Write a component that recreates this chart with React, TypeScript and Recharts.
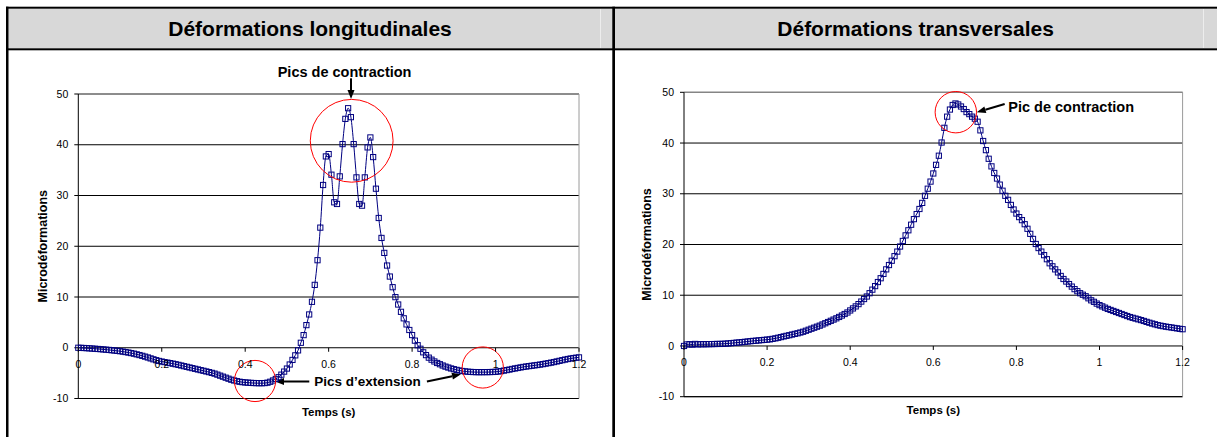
import React from 'react';
import {
  LineChart,
  Line,
  XAxis,
  YAxis,
  CartesianGrid,
  ReferenceLine,
  ReferenceDot,
  Label,
} from 'recharts';

const FONT = '"Liberation Sans", Arial, Helvetica, sans-serif';

// 150 samples per second, 0 to 1.2 s
const SAMPLES_PER_SECOND = 150;
const TIME_TICKS = [0, 0.2, 0.4, 0.6, 0.8, 1, 1.2];
const STRAIN_TICKS = [-10, 0, 10, 20, 30, 40, 50];

const PANEL_TITLES = ['Déformations longitudinales', 'Déformations transversales'];

// microdéformations, longitudinal gauge
const LONGITUDINAL = [
  0, -0.02, -0.05, -0.08, -0.12, -0.16, -0.2, -0.24, -0.28, -0.33,
  -0.38, -0.43, -0.49, -0.55, -0.61, -0.68, -0.76, -0.85, -0.95, -1.05,
  -1.17, -1.3, -1.44, -1.59, -1.75, -1.92, -2.1, -2.28, -2.45, -2.6,
  -2.72, -2.83, -2.93, -3.03, -3.14, -3.25, -3.37, -3.5, -3.63, -3.76,
  -3.89, -4.02, -4.15, -4.28, -4.41, -4.54, -4.67, -4.8, -4.95, -5.1,
  -5.3, -5.5, -5.7, -5.9, -6.1, -6.3, -6.45, -6.58, -6.7, -6.78,
  -6.84, -6.88, -6.92, -6.95, -6.97, -6.98, -6.98, -6.96, -6.88, -6.7,
  -6.45, -6.15, -5.8, -5.3, -4.7, -4.1, -3.3, -2.4, -1.5, -0.52,
  0.98, 2.49, 4.46, 6.56, 9.05, 12.39, 17.25, 23.67, 32.07, 37.7,
  38.16, 34.1, 28.66, 28.33, 33.77, 40.13, 45.1, 47.2, 45.44, 40.13,
  33.57, 28.33, 28.0, 33.57, 39.48, 41.44, 37.57, 31.34, 25.57, 21.64,
  18.69, 16.2, 14.03, 11.93, 9.97, 8.52, 7.08, 5.8, 4.6, 3.5,
  2.5, 1.4, 0.5, -0.2, -0.9, -1.45, -1.95, -2.35, -2.7, -3.0,
  -3.25, -3.5, -3.72, -3.9, -4.08, -4.22, -4.36, -4.48, -4.58, -4.66,
  -4.72, -4.76, -4.79, -4.8, -4.81, -4.81, -4.8, -4.8, -4.79, -4.77,
  -4.74, -4.68, -4.6, -4.5, -4.4, -4.3, -4.18, -4.08, -3.98, -3.88,
  -3.78, -3.7, -3.62, -3.55, -3.47, -3.4, -3.32, -3.23, -3.13, -3.03,
  -2.93, -2.82, -2.7, -2.58, -2.45, -2.33, -2.22, -2.12, -2.03, -1.96,
  -1.9,
];

// microdéformations, transverse gauge
const TRANSVERSE = [
  0, 0.3, 0.35, 0.25, 0.4, 0.3, 0.35, 0.33, 0.35, 0.36,
  0.37, 0.38, 0.4, 0.4, 0.42, 0.45, 0.5, 0.55, 0.6, 0.66,
  0.7, 0.76, 0.82, 0.88, 0.94, 1.0, 1.04, 1.1, 1.15, 1.2,
  1.25, 1.3, 1.4, 1.5, 1.62, 1.75, 1.88, 2.0, 2.12, 2.25,
  2.38, 2.5, 2.65, 2.8, 3.0, 3.2, 3.4, 3.6, 3.8, 4.0,
  4.24, 4.48, 4.72, 4.96, 5.2, 5.45, 5.72, 6.0, 6.3, 6.6,
  7.0, 7.4, 7.8, 8.25, 8.75, 9.25, 9.75, 10.4, 11.1, 11.8,
  12.6, 13.35, 14.2, 15.1, 15.95, 16.8, 17.7, 18.6, 19.6, 20.7,
  21.8, 22.8, 23.9, 25.0, 26.0, 27.0, 28.2, 29.6, 31.0, 32.4,
  34.0, 35.7, 37.5, 40.1, 43.0, 45.2, 46.6, 47.5, 47.8, 47.6,
  47.2, 46.7, 46.1, 45.7, 45.2, 44.8, 44.2, 42.5, 40.4, 38.6,
  36.9, 35.4, 34.1, 33.0, 31.8, 30.6, 29.6, 28.8, 27.8, 26.9,
  26.1, 25.4, 24.8, 24.0, 23.1, 22.1, 21.1, 20.1, 19.3, 18.6,
  17.9, 17.1, 16.3, 15.7, 15.1, 14.5, 13.8, 13.2, 12.7, 12.2,
  11.7, 11.2, 10.8, 10.4, 10.1, 9.8, 9.4, 9.0, 8.7, 8.35,
  8.05, 7.8, 7.55, 7.3, 7.1, 6.9, 6.7, 6.5, 6.3, 6.1,
  5.9, 5.7, 5.55, 5.4, 5.25, 5.1, 4.93, 4.75, 4.58, 4.42,
  4.27, 4.12, 4.0, 3.9, 3.8, 3.72, 3.64, 3.55, 3.47, 3.38,
  3.3,
];

const toRows = (values: number[]) =>
  values.map((v, i) => ({ t: i / SAMPLES_PER_SECOND, v }));

const H = 437;
const NAVY = '#000080';
const X_AXIS_H = 30;

const arrowShape = (p: any) => {
  const { x1, y1, x2, y2 } = p;
  const dx = x2 - x1;
  const dy = y2 - y1;
  const len = Math.hypot(dx, dy) || 1;
  const ux = dx / len;
  const uy = dy / len;
  const head = 9;
  const half = 3.5;
  const bx = x2 - ux * head;
  const by = y2 - uy * head;
  return (
    <g>
      <line x1={x1} y1={y1} x2={bx} y2={by} stroke='#000' strokeWidth={2} />
      <polygon
        points={`${x2},${y2} ${bx - uy * half},${by + ux * half} ${bx + uy * half},${by - ux * half}`}
        fill='#000'
      />
    </g>
  );
};

const noteShape = (text: string, size: number, anchor: string) => (p: any) => (
  <text
    x={p.cx}
    y={p.cy}
    textAnchor={anchor}
    fontFamily={FONT}
    fontWeight='bold'
    fontSize={size}
    fill='#000'
  >
    {text}
  </text>
);

interface PanelProps {
  left: number;
  width: number;
  plotLeft: number;
  plotRight: number;
  plotTop: number;
  plotBottom: number;
  yLabelX: number;
  values: number[];
  children?: React.ReactNode;
}

const Panel: React.FC<PanelProps> = ({
  left,
  width,
  plotLeft,
  plotRight,
  plotTop,
  plotBottom,
  yLabelX,
  values,
  children,
}) => {
  const rows = toRows(values);
  // x axis crosses at 0, which sits 10 units above the bottom of the plot
  const zeroY = plotBottom - ((plotBottom - plotTop) * 10) / 60;
  const plotMidX = (plotLeft + plotRight) / 2 - left;
  const plotMidY = (plotTop + plotBottom) / 2;

  const timeTick = (p: any) => (
    <g>
      <line x1={p.x} x2={p.x} y1={zeroY} y2={zeroY + 4} stroke='#000' />
      <text
        x={p.x}
        y={zeroY + 20.5}
        textAnchor='middle'
        fontFamily={FONT}
        fontSize={10.5}
        fill='#000'
      >
        {String(p.payload.value)}
      </text>
    </g>
  );

  return (
    <div style={{ position: 'absolute', left, top: 0 }}>
      <LineChart
        width={width}
        height={H}
        data={rows}
        margin={{
          top: plotTop,
          right: left + width - plotRight,
          bottom: H - plotBottom - X_AXIS_H,
          left: 0,
        }}
      >
        <CartesianGrid vertical={false} stroke='#000' strokeWidth={1} />
        <XAxis
          type='number'
          dataKey='t'
          domain={[0, 1.2]}
          ticks={TIME_TICKS}
          interval={0}
          height={X_AXIS_H}
          axisLine={false}
          tickLine={false}
          tick={timeTick}
        >
          <Label
            content={() => (
              <text
                x={plotMidX}
                y={plotBottom + 17.4}
                textAnchor='middle'
                fontFamily={FONT}
                fontWeight='bold'
                fontSize={11.5}
                fill='#000'
              >
                Temps (s)
              </text>
            )}
          />
        </XAxis>
        <YAxis
          type='number'
          domain={[-10, 50]}
          ticks={STRAIN_TICKS}
          interval={0}
          width={plotLeft - left}
          stroke='#000'
          tickSize={4}
          tickMargin={6}
          tick={{ fill: '#000', fontSize: 10.5, fontFamily: FONT }}
        >
          <Label
            content={() => (
              <text
                x={yLabelX}
                y={plotMidY}
                transform={`rotate(-90 ${yLabelX} ${plotMidY})`}
                textAnchor='middle'
                fontFamily={FONT}
                fontWeight='bold'
                fontSize={12.5}
                fill='#000'
              >
                Microdéformations
              </text>
            )}
          />
        </YAxis>
        <ReferenceLine y={-10} stroke='#000' />
        <ReferenceLine y={50} stroke='#9a9a9a' />
        <ReferenceLine x={1.2} stroke='#9a9a9a' />
        <Line
          type='monotone'
          dataKey='v'
          stroke={NAVY}
          strokeWidth={1}
          isAnimationActive={false}
          activeDot={false}
          dot={(p: any) => (
            <rect
              key={`m-${p.index}`}
              x={p.cx - 2.6}
              y={p.cy - 2.6}
              width={5.2}
              height={5.2}
              fill='none'
              stroke={NAVY}
              strokeWidth={1}
            />
          )}
        />
        {children}
      </LineChart>
    </div>
  );
};

const Frame: React.FC = () => (
  <svg width={1217} height={H} style={{ position: 'absolute', left: 0, top: 0 }}>
    <rect x={0} y={0} width={1217} height={H} fill='#fff' />
    <rect x={8.5} y={8.7} width={1217 - 8.5} height={39.6} fill='#d8d8d8' />
    <rect x={600} y={8.7} width={1} height={39.6} fill='#ededed' />
    <rect x={1203} y={8.7} width={1} height={39.6} fill='#ededed' />
    <rect x={6} y={6.7} width={1211} height={2} fill='#000' />
    <rect x={6} y={48.3} width={1211} height={2} fill='#000' />
    <rect x={6} y={6.7} width={2.5} height={H} fill='#000' />
    <rect x={612.3} y={6.7} width={2.7} height={H} fill='#000' />
    <text x={310} y={35.5} textAnchor='middle' fontFamily={FONT} fontWeight='bold' fontSize={21}>
      {PANEL_TITLES[0]}
    </text>
    <text x={915.6} y={35.5} textAnchor='middle' fontFamily={FONT} fontWeight='bold' fontSize={21}>
      {PANEL_TITLES[1]}
    </text>
  </svg>
);

const App: React.FC = () => (
  <div
    style={{
      position: 'absolute',
      left: 0,
      top: 0,
      width: 1217,
      height: H,
      overflow: 'hidden',
      background: '#fff',
    }}
  >
    <Frame />
    <Panel
      left={0}
      width={600}
      plotLeft={78.3}
      plotRight={579}
      plotTop={94}
      plotBottom={398.5}
      yLabelX={46.7}
      values={LONGITUDINAL}
    >
      <ReferenceDot x={0.6552} y={40.78} r={41.4} fill='none' stroke='#ff0000' strokeWidth={1} ifOverflow='visible' />
      <ReferenceDot x={0.4235} y={-6.55} r={20.6} fill='none' stroke='#ff0000' strokeWidth={1} ifOverflow='visible' />
      <ReferenceDot x={0.9694} y={-3.89} r={20.6} fill='none' stroke='#ff0000' strokeWidth={1} ifOverflow='visible' />
      <ReferenceLine
        segment={[{ x: 0.6536, y: 53.09 }, { x: 0.6536, y: 49.01 }]}
        shape={arrowShape}
        ifOverflow='visible'
      />
      <ReferenceLine
        segment={[{ x: 0.5536, y: -6.65 }, { x: 0.4714, y: -6.65 }]}
        shape={arrowShape}
        ifOverflow='visible'
      />
      <ReferenceLine
        segment={[{ x: 0.8355, y: -6.65 }, { x: 0.9172, y: -5.23 }]}
        shape={arrowShape}
        ifOverflow='visible'
      />
      <ReferenceDot
        x={0.6382}
        y={53.29}
        r={0}
        ifOverflow='visible'
        shape={noteShape('Pics de contraction', 14.5, 'middle')}
      />
      <ReferenceDot
        x={0.6931}
        y={-7.54}
        r={0}
        ifOverflow='visible'
        shape={noteShape('Pics d’extension', 13.5, 'middle')}
      />
    </Panel>
    <Panel
      left={607}
      width={600}
      plotLeft={684}
      plotRight={1182.6}
      plotTop={92.3}
      plotBottom={396.7}
      yLabelX={43.6}
      values={TRANSVERSE}
    >
      <ReferenceDot x={0.6542} y={46.08} r={20.7} fill='none' stroke='#ff0000' strokeWidth={1} ifOverflow='visible' />
      <ReferenceLine
        segment={[{ x: 0.7718, y: 47.69 }, { x: 0.7045, y: 46.06 }]}
        shape={arrowShape}
        ifOverflow='visible'
      />
      <ReferenceDot
        x={0.7805}
        y={46.18}
        r={0}
        ifOverflow='visible'
        shape={noteShape('Pic de contraction', 14.5, 'start')}
      />
    </Panel>
  </div>
);

export default App;
